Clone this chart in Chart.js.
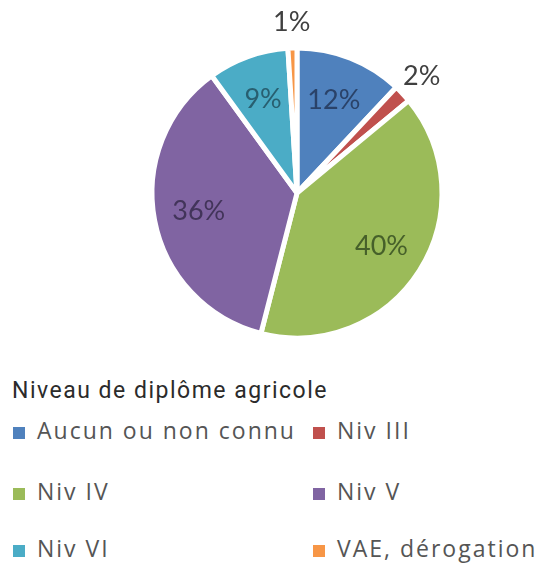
<!DOCTYPE html>
<html>
<head>
<meta charset="utf-8">
<script src="https://cdn.jsdelivr.net/npm/chart.js@4.4.0/dist/chart.umd.min.js"></script>
<style>
  body { margin: 0; background: #fff; }
  #wrap { position: relative; width: 546px; height: 567px; overflow: hidden; }
  #chartBox { position: absolute; left: 0; top: 0; width: 546px; height: 360px; }
  #legendTitle { position: absolute; left: 12px; top: 377px; font-family: Roboto, sans-serif; font-size: 23px; letter-spacing: 1.5px; color: #2b2b2b; white-space: nowrap; }
  .item { position: absolute; font-family: "Open Sans", sans-serif; font-size: 23px; letter-spacing: 2px; color: #555; white-space: nowrap; line-height: 28px; }
  .item span.box { display: inline-block; width: 12px; height: 12px; margin-right: 12px; vertical-align: 0; }
</style>
</head>
<body>
<div id="wrap">
  <div id="chartBox"><canvas id="myChart"></canvas></div>
  <div id="legendTitle">Niveau de diplôme agricole</div>
  <div id="legend"></div>
</div>
<script>
// data
var labels = ['Aucun ou non connu', 'Niv III', 'Niv IV', 'Niv V', 'Niv VI', 'VAE, dérogation'];
var values = [12, 2, 40, 36, 9, 1];
var colors = ['#4f81bd', '#c0504d', '#9bbb59', '#8064a2', '#4bacc6', '#f79646'];
var labelColors = ['#2a4268', '#404040', '#46602a', '#42345a', '#285f70', '#404040'];

// legend, two columns
var legend = document.getElementById('legend');
var colX = [13, 313];
var rowY = [416, 477, 534];
labels.forEach(function(l, i) {
	var d = document.createElement('div');
	d.className = 'item';
	d.style.left = colX[i % 2] + 'px';
	d.style.top = rowY[Math.floor(i / 2)] + 'px';
	d.innerHTML = '<span class="box" style="background:' + colors[i] + '"></span>' + l;
	legend.appendChild(d);
});

// percentage labels on the slices
var pctLabels = {
	id: 'pctLabels',
	afterDatasetsDraw: function(chart) {
		var ctx = chart.ctx;
		var meta = chart.getDatasetMeta(0);
		ctx.save();
		ctx.font = '27px Lato, sans-serif';
		ctx.textAlign = 'center';
		ctx.textBaseline = 'middle';
		meta.data.forEach(function(arc, i) {
			var p = arc.getProps(['x', 'y', 'startAngle', 'endAngle', 'outerRadius'], true);
			var mid = (p.startAngle + p.endAngle) / 2;
			var d = values[i] < 5 ? p.outerRadius + 26 : p.outerRadius * 0.69;
			ctx.fillStyle = labelColors[i];
			ctx.fillText(values[i] + '%', p.x + Math.cos(mid) * d, p.y + Math.sin(mid) * d);
		});
		ctx.restore();
	}
};

var ctx = document.getElementById('myChart').getContext('2d');
var chart = new Chart(ctx, {
	type: 'pie',
	data: {
		labels: labels,
		datasets: [{
			data: values,
			backgroundColor: colors,
			borderColor: '#ffffff',
			borderWidth: 5
		}]
	},
	options: {
		responsive: true,
		maintainAspectRatio: false,
		animation: false,
		radius: 145,
		layout: { padding: { left: 48, top: 26 } },
		plugins: {
			legend: { display: false },
			tooltip: { enabled: false }
		}
	},
	plugins: [pctLabels]
});
</script>
</body>
</html>
